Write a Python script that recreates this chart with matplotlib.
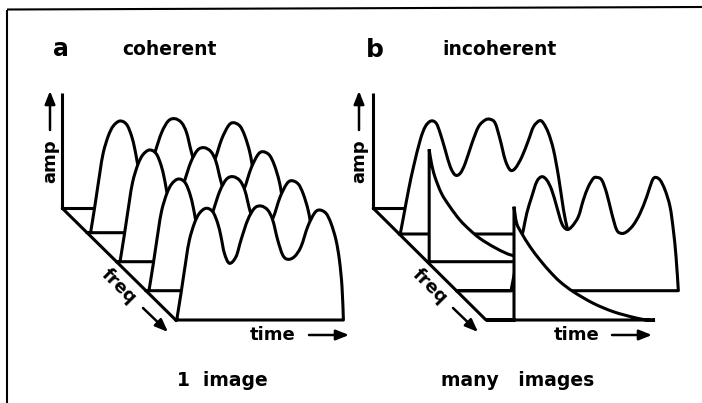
import numpy as np
import matplotlib
matplotlib.use("Agg")
import matplotlib.pyplot as plt
from matplotlib.path import Path
from matplotlib.patches import PathPatch

# ---------------- data (pixel space of the 702x403 figure) ----------------
# coherent trace outline: distance along time from trace start, height above baseline
COH_DX = [0, 4.3, 9.3, 12.7, 17.7, 22.7, 29.3, 36, 41, 44.3, 47.7, 52.7, 59.3, 64.3, 71,
          77.7, 84.3, 91, 96, 101, 106, 111, 117.7, 124.3, 131, 137.7, 142.7, 149.3,
          154.3, 159.3, 162.7, 165.3, 166.7]
COH_H = [0, 26.7, 60, 80, 96.7, 106.7, 111.7, 108.3, 96.7, 83.3, 66.7, 56.7, 63.3, 80, 100,
         111.7, 114, 110, 100, 80, 65, 60.7, 63.3, 73.3, 93.3, 106.7, 110, 106.7,
         96.7, 80, 60, 33.3, 0]

# incoherent: back wave
W1_DX = [0, 3.3, 8.3, 13.3, 20, 25, 30.7, 36, 40, 45, 50, 55, 60, 65, 71.7, 78.3, 85, 90,
         95, 100, 105, 110, 115, 121.7, 128.3, 133.3, 139.3, 143.3, 148.3, 153.3, 158.3,
         163.3, 166.7, 168.3]
W1_H = [0, 17.3, 44, 67.3, 94, 107.3, 113, 110.7, 100.7, 84, 67.3, 59, 60.7, 70.7, 90.7,
        107.3, 114, 114.7, 110.7, 94, 74, 64, 65.7, 77.3, 94, 107.3, 113.3, 110.7, 100.7,
        84, 57.3, 24, 7.3, 0]
# incoherent: front wave
W2_DX = [0, 3.3, 8.3, 12.3, 15.7, 20.7, 25.7, 30.7, 35.7, 40.7, 45.7, 50.7, 55.7, 60.7,
         67.3, 72.3, 77.3, 82.3, 85.7, 90.7, 95.7, 100.7, 105.7, 110.7, 115.7, 122.3, 129,
         135.7, 140.7, 144, 149, 154, 159, 162.3, 165, 167.3]
W2_H = [0, 17.3, 44, 60.7, 77.3, 94, 109, 114, 110.7, 100.7, 84, 67.3, 61.3, 64, 74, 90.7,
        104, 112.3, 113.3, 110.7, 97.3, 77.3, 60.7, 57.3, 59, 65.7, 77.3, 94, 109, 113.3,
        110.7, 100.7, 84, 60.7, 34, 0]
# incoherent: decays (vertical rise then decay)
D1_DX = [0, 2.3, 5.7, 12.3, 20.7, 30.7, 40.7, 50.7, 64, 77.3, 84.7, 100, 120, 135]
D1_H = [112.3, 98.3, 85, 68.3, 55, 41.7, 31.7, 23.3, 15, 8.3, 6, 2.5, 0.5, 0]
D2_DX = [0, 2.7, 7.7, 16, 26, 36, 46, 59.3, 79.3, 99.3, 119.3, 132.7, 141]
D2_H = [113.3, 96.7, 86.7, 73.3, 60, 48.3, 38.3, 28.3, 16.7, 8.3, 2.7, 0, 0]

# geometry of the two panels
A_ORIGIN = (62.3, 208.3)
A_DIAG_END = (175.7, 320.0)
A_LEVELS = [232.7, 261.7, 290.7, 320.0]
A_OFFSETS = [3.5, 3.5, 3.0, 1.0]

B_ORIGIN = (373.3, 208.3)
B_DIAG_END = (486.0, 320.0)
B_LEVELS = [234.0, 261.7, 290.7, 320.0]
B_OFFSETS = [1.0, 2.0, 54.6, 28.0]
AXIS_TOP = 93.0

LW = 2.2


def diag_x(origin, end, y):
    return origin[0] + (y - origin[1]) * (end[0] - origin[0]) / (end[1] - origin[1])


def smooth(pts):
    pts = np.asarray(pts, float)
    ext = np.vstack([pts[0], pts, pts[-1]])
    verts, codes = [], []
    for i in range(len(pts) - 1):
        p0, p1, p2, p3 = ext[i], ext[i + 1], ext[i + 2], ext[i + 3]
        verts += [p1 + (p2 - p0) / 6.0, p2 - (p3 - p1) / 6.0, p2]
        codes += [Path.CURVE4] * 3
    return verts, codes


def wave_patch(ax, origin, end, level, offset, dxs, hs, z):
    dx0 = diag_x(origin, end, level)
    sx = dx0 + offset
    pts = [(sx + d, level - h) for d, h in zip(dxs, hs)]
    verts = [(dx0, level), (sx, level)]
    codes = [Path.MOVETO, Path.LINETO]
    v, c = smooth(pts)
    verts += v
    codes += c
    verts += [(dx0, level), (dx0, level)]
    codes += [Path.LINETO, Path.CLOSEPOLY]
    ax.add_patch(PathPatch(Path(verts, codes), facecolor="white", edgecolor="black",
                           lw=LW, joinstyle="round", capstyle="round", zorder=z))


def decay_patch(ax, origin, end, level, offset, dxs, hs, z):
    dx0 = diag_x(origin, end, level)
    sx = dx0 + offset
    pts = [(sx + d, level - h) for d, h in zip(dxs, hs)]
    verts = [(dx0, level), (sx, level), pts[0]]
    codes = [Path.MOVETO, Path.LINETO, Path.LINETO]
    v, c = smooth(pts)
    verts += v
    codes += c
    verts += [(dx0, level), (dx0, level)]
    codes += [Path.LINETO, Path.CLOSEPOLY]
    ax.add_patch(PathPatch(Path(verts, codes), facecolor="white", edgecolor="black",
                           lw=LW, joinstyle="miter", capstyle="butt", zorder=z))


def arrow(ax, tail, tip):
    ax.annotate("", xy=tip, xytext=tail,
                arrowprops=dict(arrowstyle="-|>,head_length=0.55,head_width=0.22",
                                lw=1.8, color="black", shrinkA=0, shrinkB=0,
                                mutation_scale=14), zorder=20)


fig = plt.figure(figsize=(7.02, 4.03), dpi=100)
ax = fig.add_axes([0, 0, 1, 1])
ax.set_xlim(0, 702)
ax.set_ylim(403, 0)
ax.axis("off")

# frame
ax.plot([7, 7], [9.5, 403], color="black", lw=1.5, solid_capstyle="butt")
ax.plot([7, 702], [9.5, 7], color="black", lw=1.5, solid_capstyle="butt")

FONT = dict(family="DejaVu Sans", fontweight="bold", color="black")

for origin, end in [(A_ORIGIN, A_DIAG_END), (B_ORIGIN, B_DIAG_END)]:
    # floor line at origin level
    ax.plot([origin[0], origin[0] + 40], [origin[1], origin[1]], color="black", lw=LW, zorder=1)
    # amplitude axis and frequency diagonal
    ax.plot([origin[0], origin[0]], [AXIS_TOP, origin[1]], color="black", lw=LW,
            solid_capstyle="butt", zorder=10)
    ax.plot([origin[0], end[0]], [origin[1], end[1]], color="black", lw=LW,
            solid_capstyle="round", zorder=10)

# panel a: four identical, time-aligned traces
for i, (lvl, off) in enumerate(zip(A_LEVELS, A_OFFSETS)):
    wave_patch(ax, A_ORIGIN, A_DIAG_END, lvl, off, COH_DX, COH_H, 2 + i)

# panel b: waves and decays at random times
wave_patch(ax, B_ORIGIN, B_DIAG_END, B_LEVELS[0], B_OFFSETS[0], W1_DX, W1_H, 2)
decay_patch(ax, B_ORIGIN, B_DIAG_END, B_LEVELS[1], B_OFFSETS[1], D1_DX, D1_H, 3)
wave_patch(ax, B_ORIGIN, B_DIAG_END, B_LEVELS[2], B_OFFSETS[2], W2_DX, W2_H, 4)
decay_patch(ax, B_ORIGIN, B_DIAG_END, B_LEVELS[3], B_OFFSETS[3], D2_DX, D2_H, 5)

# texts
ax.text(61, 49, "a", fontsize=17, ha="center", va="center", **FONT)
ax.text(122, 55, "coherent", fontsize=13.5, ha="left", va="baseline", **FONT)
ax.text(375, 57, "b", fontsize=18, ha="center", va="baseline", **FONT)
ax.text(442, 55, "incoherent", fontsize=13.5, ha="left", va="baseline", **FONT)

for x_amp, x_arr in [(50, 50), (359, 359)]:
    ax.text(x_amp, 161, "amp", fontsize=13, rotation=90, ha="center", va="center", **FONT)
    arrow(ax, (x_arr, 130), (x_arr, 91))

for cx, tail, tip in [(119, (143, 308), (168, 332)), (430, (453, 308), (478, 332))]:
    ax.text(cx, 286, "freq", fontsize=13, rotation=-45, ha="center", va="center",
            rotation_mode="anchor", **FONT)
    arrow(ax, tail, tip)

ax.text(273, 335, "time", fontsize=13, ha="center", va="center", **FONT)
arrow(ax, (309, 335), (349, 335))
ax.text(577, 335, "time", fontsize=13, ha="center", va="center", **FONT)
arrow(ax, (612, 335), (652, 335))

ax.text(222, 381, "1  image", fontsize=13.5, ha="center", va="center", **FONT)
ax.text(518, 381, "many   images", fontsize=13.5, ha="center", va="center", **FONT)

fig.savefig("out.png", dpi=100)
